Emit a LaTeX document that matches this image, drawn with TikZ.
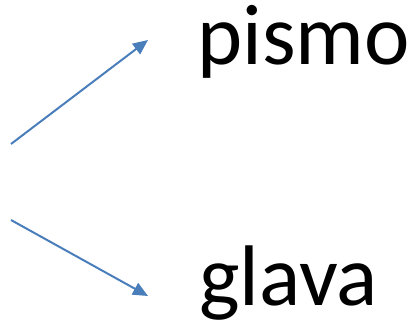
\documentclass[tikz,border=0pt]{standalone}
\usepackage{fontspec}
\setmainfont{Carlito}
\usetikzlibrary{arrows.meta}
\definecolor{arrowblue}{HTML}{4A7EBB}
\begin{document}
\begin{tikzpicture}[
  x=1pt, y=1pt,
  word/.style={anchor=base west, inner sep=0pt, font=\fontsize{86}{100}\selectfont},
  link/.style={draw=arrowblue, line width=2pt, -{Triangle[length=15pt,width=13pt]}}
]
  \useasboundingbox (0,0) rectangle (411,324);
  % words
  \node[word] (pismo) at (197,259) {pismo};
  \node[word] (glava) at (199,19) {glava};
  % arrows
  \coordinate (a1) at (11,180);
  \coordinate (t1) at (148,284);
  \coordinate (a2) at (11,104);
  \coordinate (t2) at (148,28);
  \draw[link] (a1) -- (t1);
  \draw[link] (a2) -- (t2);
\end{tikzpicture}
\end{document}
